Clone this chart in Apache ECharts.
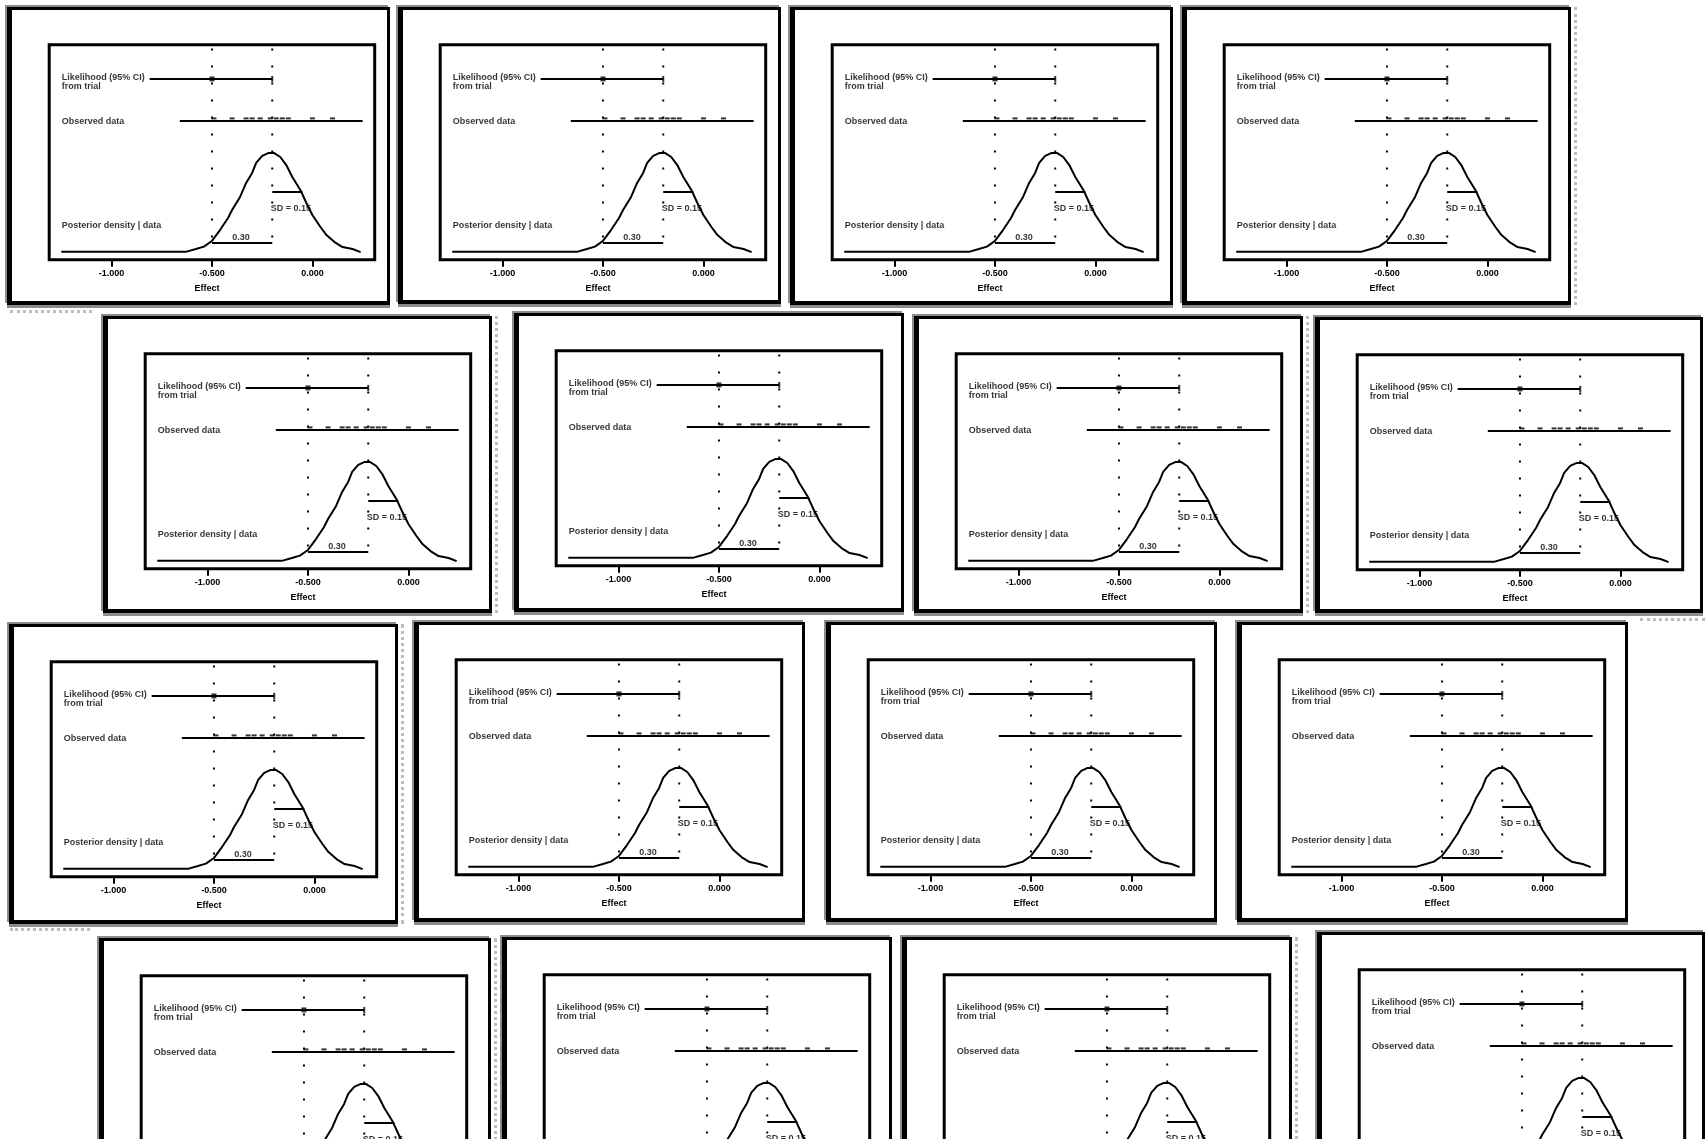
<!DOCTYPE html>
<html>
<head>
<meta charset="utf-8">
<script src="https://cdn.jsdelivr.net/npm/echarts@6/dist/echarts.min.js"></script>
<style>
html, body { margin: 0; padding: 0; width: 1705px; height: 1139px; overflow: hidden; background: #fff; }
.panel {
  position: absolute; box-sizing: border-box; background: #fff;
  border: 3px solid #000; border-left-width: 5px; border-bottom-width: 4px;
  box-shadow: -2px -2px 0 #8c8c8c, 0 3px 0 #8c8c8c;
}
.panel .chart { position: absolute; left: 0; top: 0; right: 0; bottom: 0; }
.panel.dots::after {
  content: ""; position: absolute; top: -3px; bottom: -4px; right: -9px;
  border-right: 3px dotted #bdbdbd;
}
.strip { position: absolute; height: 0; border-top: 3px dotted #bdbdbd; }
</style>
</head>
<body>
<script>
// values (same chart repeated in every tile)
const xTicks = [-1, -0.5, 0];
const refLineX = [-0.5, -0.2];
const refLineY = [97.5, 9];
const rowY = [83.5, 64.2];
const row1Low = -0.81, row1Est = -0.5, row1High = -0.2;
const row2Low = -0.66, row2High = 0.25;
const rugX = [-0.49, -0.40, -0.33, -0.30, -0.26, -0.21, -0.18, -0.15, -0.12, 0.00, 0.10];
const rugY = 65.4;
const densityX = [-1.25, -0.63, -0.58, -0.54, -0.50, -0.46, -0.42, -0.40, -0.36, -0.33, -0.30, -0.28, -0.25, -0.22,
  -0.19, -0.16, -0.13, -0.10, -0.06, -0.03, 0.00, 0.04, 0.07, 0.11, 0.15, 0.20, 0.24];
const densityY = [4.2, 4.2, 5.5, 6.6, 9.2, 14.2, 19.7, 23.4, 29.4, 35.8, 40.4, 45.0, 48.2, 49.5,
  49.5, 47.7, 44.0, 38.5, 32.6, 26.6, 21.1, 15.6, 11.9, 8.7, 6.4, 5.5, 4.1];
const diffBar = [-0.5, -0.2], diffY = 8.3;
const sdBar = [-0.2, -0.05], sdY = 31.7;
const rowLabels = ["Likelihood (95% CI)\nfrom trial", "Observed data", "Posterior density | data"];
const rowLabelY = [82, 63.8, 16.5];
const labelX = -1.25;
const barLabels = ["0.30", "SD = 0.15"];
const barLabelPos = [[-0.356, 11.0], [-0.107, 24.3]];
const axisName = "Effect";

// tile frames: left, top, width, height (page pixels)
const panels = [
  [7, 7, 383, 298], [398, 7, 383, 297], [790, 7, 383, 298], [1182, 7, 389, 298],
  [103, 316, 389, 297], [514, 313, 390, 299], [914, 316, 389, 297], [1315, 317, 388, 296],
  [9, 624, 389, 300], [414, 622, 391, 300], [826, 622, 391, 300], [1237, 622, 391, 300],
  [99, 938, 392, 300], [502, 937, 390, 300], [902, 937, 390, 300], [1317, 932, 388, 300]
];
const dotted = [3, 4, 6, 8, 12, 14];
const strips = [[10, 310, 82], [10, 928, 80], [1640, 618, 65]];

const font = "Liberation Sans";
const txt = { fontFamily: font, fontSize: 9, fontWeight: "bold", color: "#000" };
const black = "#000";

function lineSeries(data, extra) {
  return Object.assign({
    type: "line", data: data, symbol: "none", silent: true,
    lineStyle: { color: black, width: 2 }
  }, extra || {});
}

function buildOption() {
  let series = [];
  refLineX.forEach(function (x) {
    series.push(lineSeries([[x, refLineY[0]], [x, refLineY[1]]], {
      lineStyle: { color: black, width: 2, type: [2, 15] }
    }));
  });
  series.push(lineSeries([[row1Low, rowY[0]], [row1High, rowY[0]]]));
  series.push(lineSeries([[row2Low, rowY[1]], [row2High, rowY[1]]]));
  series.push(lineSeries(densityX.map(function (x, i) { return [x, densityY[i]]; })));
  series.push(lineSeries([[diffBar[0], diffY], [diffBar[1], diffY]]));
  series.push(lineSeries([[sdBar[0], sdY], [sdBar[1], sdY]]));
  // point estimate and end cap of row 1
  series.push({
    type: "scatter", silent: true, itemStyle: { color: black },
    data: [
      { value: [row1Est, rowY[0]], symbol: "rect", symbolSize: 5 },
      { value: [row1High, rowY[0]], symbol: "rect", symbolSize: [2, 6] }
    ]
  });
  // data marks sitting on row 2
  series.push({
    type: "scatter", silent: true, symbol: "rect", symbolSize: [5, 2],
    itemStyle: { color: black },
    data: rugX.map(function (x) { return [x, rugY]; })
  });
  // text labels
  let labels = rowLabels.map(function (t, i) {
    return {
      value: [labelX, rowLabelY[i]],
      label: Object.assign({ show: true, formatter: t, position: "right", distance: 0, lineHeight: 8.5, align: "left" }, txt)
    };
  });
  barLabels.forEach(function (t, i) {
    labels.push({
      value: barLabelPos[i],
      label: Object.assign({ show: true, formatter: t, position: "inside" }, txt)
    });
  });
  series.push({
    type: "scatter", silent: true, symbolSize: 1,
    itemStyle: { color: "rgba(0,0,0,0)" }, data: labels
  });

  return {
    animation: false,
    grid: { left: 37.2, top: 34.7, width: 325.5, height: 215, show: true, borderColor: black, borderWidth: 3, backgroundColor: "#fff" },
    xAxis: {
      type: "value", min: -1.31, max: 0.31,
      axisLine: { show: false }, splitLine: { show: false },
      axisTick: { show: true, customValues: xTicks, length: 7, lineStyle: { color: black, width: 2 } },
      axisLabel: Object.assign({ customValues: xTicks, margin: 9, formatter: function (v) { return v.toFixed(3); } }, txt),
      name: axisName, nameLocation: "middle", nameGap: 24,
      nameTextStyle: Object.assign({ padding: [0, 10, 0, 0] }, txt)
    },
    yAxis: { type: "value", min: 0.6, max: 99.2, show: false },
    series: series
  };
}

panels.forEach(function (p, i) {
  const div = document.createElement("div");
  div.className = "panel" + (dotted.indexOf(i) >= 0 ? " dots" : "");
  div.style.left = p[0] + "px";
  div.style.top = p[1] + "px";
  div.style.width = p[2] + "px";
  div.style.height = p[3] + "px";
  const inner = document.createElement("div");
  inner.className = "chart";
  div.appendChild(inner);
  document.body.appendChild(div);
  const chart = echarts.init(inner, null, { renderer: "canvas" });
  chart.setOption(buildOption());
});

strips.forEach(function (s) {
  const d = document.createElement("div");
  d.className = "strip";
  d.style.left = s[0] + "px";
  d.style.top = s[1] + "px";
  d.style.width = s[2] + "px";
  document.body.appendChild(d);
});
</script>
</body>
</html>
